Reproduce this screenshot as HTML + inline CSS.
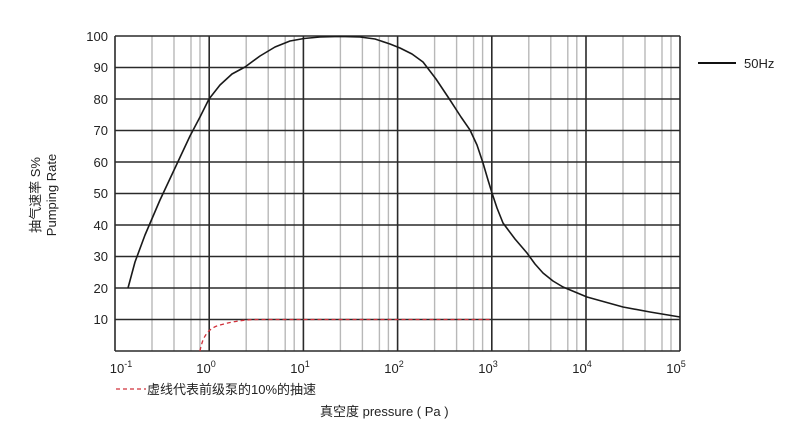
<!DOCTYPE html>
<html><head><meta charset="utf-8"><style>
body{margin:0;background:#fff;}
svg text{font-family:"Liberation Sans","Noto Sans CJK SC",sans-serif;fill:#222;}
</style></head><body>
<svg width="800" height="429" viewBox="0 0 800 429" xmlns="http://www.w3.org/2000/svg">
<path stroke="#b8b8b8" stroke-width="1.4" fill="none" d="
M152 36V351M174 36V351M191 36V351M200 36V351
M246.2 36V351M268.2 36V351M285.2 36V351M294.2 36V351
M340.4 36V351M362.4 36V351M379.4 36V351M388.4 36V351
M434.6 36V351M456.6 36V351M473.6 36V351M482.6 36V351
M528.8 36V351M550.8 36V351M567.8 36V351M576.8 36V351
M623 36V351M645 36V351M662 36V351M671 36V351"/>
<g stroke="#2a2a2a" stroke-width="1.6">
<line x1="115" y1="36" x2="680" y2="36"/>
<line x1="115" y1="67.5" x2="680" y2="67.5"/>
<line x1="115" y1="99" x2="680" y2="99"/>
<line x1="115" y1="130.5" x2="680" y2="130.5"/>
<line x1="115" y1="162" x2="680" y2="162"/>
<line x1="115" y1="193.5" x2="680" y2="193.5"/>
<line x1="115" y1="225" x2="680" y2="225"/>
<line x1="115" y1="256.5" x2="680" y2="256.5"/>
<line x1="115" y1="288" x2="680" y2="288"/>
<line x1="115" y1="319.5" x2="680" y2="319.5"/>
<line x1="115" y1="351" x2="680" y2="351"/>
<line x1="115" y1="36" x2="115" y2="351"/>
<line x1="209.2" y1="36" x2="209.2" y2="351"/>
<line x1="303.4" y1="36" x2="303.4" y2="351"/>
<line x1="397.6" y1="36" x2="397.6" y2="351"/>
<line x1="491.8" y1="36" x2="491.8" y2="351"/>
<line x1="586" y1="36" x2="586" y2="351"/>
<line x1="680" y1="36" x2="680" y2="351"/>
</g>
<polyline points="128,288 135,262 145,235 160,200 175,168 190,136 200,117 209,99 220,85 232,74 245,67 260,56 275,47 290,41 304,38.5 320,37 340,36.5 360,37 375,39 390,44 400,48 412,54 423,62 436,79 450,100 461,117 470,130 477,145 483,163 488,180 492,193 497,208 503,223 515,239 527,253 535,264 543,273 553,281 563,287 575,292 587,297 605,302 623,307 650,312 680,317" fill="none" stroke="#1a1a1a" stroke-width="1.6" stroke-linejoin="round"/>
<path d="M200,351 C203,335 209,328 220,325 C235,321 245,319.5 260,319.5 L492,319.5" fill="none" stroke="#d0303a" stroke-width="1.3" stroke-dasharray="4,3"/>
<g font-size="13" text-anchor="end">
<text x="108" y="41">100</text><text x="108" y="72">90</text><text x="108" y="104">80</text>
<text x="108" y="135">70</text><text x="108" y="167">60</text><text x="108" y="198">50</text>
<text x="108" y="230">40</text><text x="108" y="261">30</text><text x="108" y="293">20</text>
<text x="108" y="324">10</text>
</g>
<g font-size="13" text-anchor="middle">
<text x="121" y="373">10<tspan dy="-6" font-size="9">-1</tspan></text>
<text x="206" y="373">10<tspan dy="-6" font-size="9">0</tspan></text>
<text x="300" y="373">10<tspan dy="-6" font-size="9">1</tspan></text>
<text x="394" y="373">10<tspan dy="-6" font-size="9">2</tspan></text>
<text x="488" y="373">10<tspan dy="-6" font-size="9">3</tspan></text>
<text x="582" y="373">10<tspan dy="-6" font-size="9">4</tspan></text>
<text x="676" y="373">10<tspan dy="-6" font-size="9">5</tspan></text>
</g>
<line x1="116" y1="389" x2="146" y2="389" stroke="#d0303a" stroke-width="1.3" stroke-dasharray="4,3"/>
<text x="147" y="394" font-size="13">虚线代表前级泵的10%的抽速</text>
<text x="320" y="416" font-size="13">真空度 pressure ( Pa )</text>
<text transform="translate(40,195) rotate(-90)" font-size="13" text-anchor="middle">抽气速率 S%</text>
<text transform="translate(56,195) rotate(-90)" font-size="13" text-anchor="middle">Pumping Rate</text>
<line x1="698" y1="63" x2="736" y2="63" stroke="#111" stroke-width="2"/>
<text x="744" y="68" font-size="13">50Hz</text>
</svg>
</body></html>
